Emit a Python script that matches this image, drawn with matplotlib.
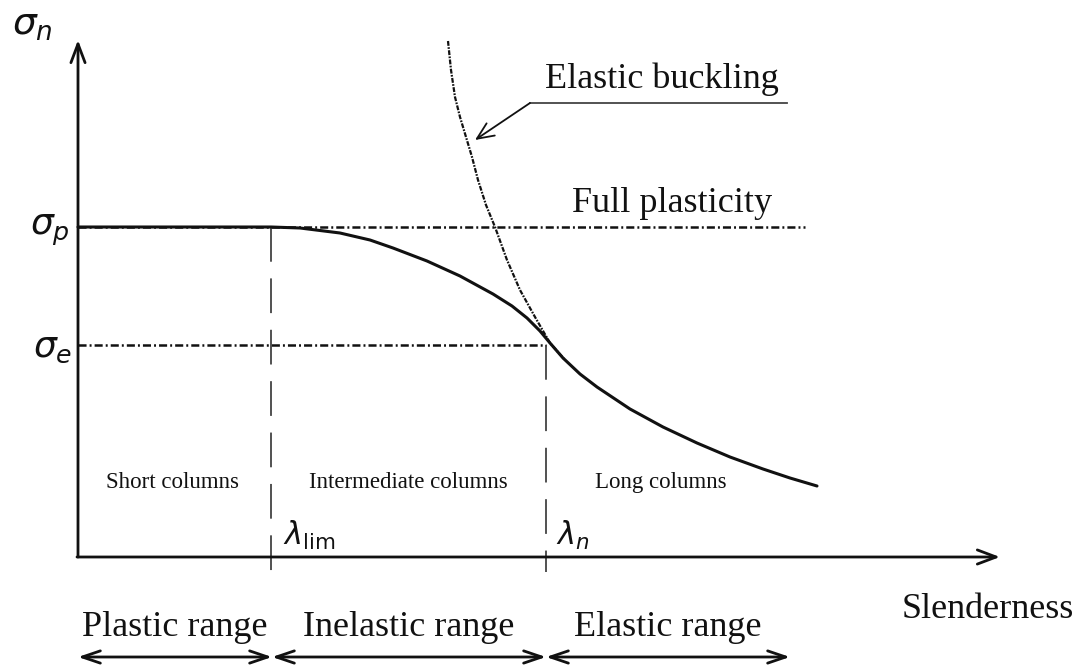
import matplotlib
matplotlib.use("Agg")
import matplotlib.pyplot as plt

plt.rcParams['lines.scale_dashes'] = False
plt.rcParams['mathtext.fontset'] = 'dejavusans'

# ---- data (slenderness units, stress units) ----
sigma_p = 3.30
sigma_e = 2.12
lam_lim = 1.93
lam_n = 4.68

# column curve
curve_x = [0.00, 1.93, 2.22, 2.62, 2.92, 3.15, 3.49, 3.82, 4.15, 4.34, 4.49,
           4.62, 4.72, 4.85, 5.02, 5.19, 5.52, 5.85, 6.19, 6.52, 6.85, 7.12, 7.39]
curve_y = [3.30, 3.30, 3.29, 3.24, 3.17, 3.09, 2.96, 2.81, 2.63, 2.51, 2.39,
           2.26, 2.14, 1.99, 1.83, 1.70, 1.48, 1.30, 1.14, 1.00, 0.88, 0.79, 0.71]

# elastic (Euler) buckling curve
euler_x = [3.70, 3.73, 3.77, 3.82, 3.88, 3.94, 4.00, 4.08, 4.17, 4.29, 4.42,
           4.57, 4.72, 4.87]
euler_y = [5.16, 4.87, 4.60, 4.40, 4.20, 4.00, 3.77, 3.52, 3.30, 2.97, 2.67,
           2.40, 2.14, 1.97]

full_plast_end = 7.27
x_axis_end = 9.22
y_axis_end = 5.17
range_edges = [0.0, 1.94, 4.68, 7.12]
range_labels = ["Plastic range", "Inelastic range", "Elastic range"]
column_labels = ["Short columns", "Intermediate columns", "Long columns"]
column_label_x = [0.94, 3.30, 5.83]

ink = "#111111"
serif = "Liberation Serif"

fig = plt.figure(figsize=(10.85, 6.68), dpi=100)
ax = fig.add_axes([0, 0, 1, 1])
ax.set_xlim(-0.78, 10.07)
ax.set_ylim(-1.11, 5.57)
ax.axis("off")

# axes arrows
axis_arrow = "->,head_length=0.45,head_width=0.17"
ax.annotate("", xy=(0, y_axis_end), xytext=(0, 0),
            arrowprops=dict(arrowstyle=axis_arrow, lw=2, color=ink,
                            mutation_scale=30, shrinkA=0, shrinkB=0))
ax.annotate("", xy=(x_axis_end, 0), xytext=(-0.01, 0),
            arrowprops=dict(arrowstyle=axis_arrow, lw=2, color=ink,
                            mutation_scale=30, shrinkA=0, shrinkB=0))

dashdot = (0, (5.8, 2.2, 1.4, 2.2))
# full plasticity line
ax.plot([0, full_plast_end], [sigma_p, sigma_p], color=ink, lw=1.8,
        linestyle=dashdot)
# sigma_e line
ax.plot([0, lam_n], [sigma_e, sigma_e], color=ink, lw=1.8, linestyle=dashdot)

# vertical dashed lines
for lx, ytop in [(lam_lim, sigma_p), (lam_n, sigma_e)]:
    ax.plot([lx, lx], [ytop, -0.15], color="#333333", lw=1.2,
            linestyle=(0, (25, 12)))

# euler curve
ax.plot(euler_x, euler_y, color=ink, lw=1.6, linestyle=(0, (3.5, 1.0, 1.2, 1.0)))
# column curve
ax.plot(curve_x, curve_y, color=ink, lw=2.2, solid_capstyle="round")

# elastic buckling leader
ax.plot([7.09, 4.52], [4.54, 4.54], color="#444444", lw=1.3)
ax.annotate("", xy=(3.97, 4.17), xytext=(4.52, 4.54),
            arrowprops=dict(arrowstyle="->,head_length=0.5,head_width=0.22",
                            lw=1.3, color=ink,
                            mutation_scale=24, shrinkA=0, shrinkB=0))

big = 26
ax.text(5.84, 4.69, "Elastic buckling", fontsize=big, family=serif,
        ha="center", va="baseline", color=ink)
ax.text(5.94, 3.45, "Full plasticity", fontsize=big, family=serif,
        ha="center", va="baseline", color=ink)
ax.text(9.10, -0.61, "Slenderness", fontsize=big, family=serif,
        ha="center", va="baseline", color=ink)

for cx, lab in zip(column_label_x, column_labels):
    ax.text(cx, 0.69, lab, fontsize=16.5, family=serif, ha="center",
            va="baseline", color=ink)

# range arrows
for i, lab in enumerate(range_labels):
    a, b = range_edges[i], range_edges[i + 1]
    ax.annotate("", xy=(b, -1.0), xytext=(a, -1.0),
                arrowprops=dict(arrowstyle="<->,head_length=0.5,head_width=0.17",
                                lw=2, color=ink,
                                mutation_scale=26, shrinkA=0, shrinkB=0))
    ax.text((a + b) / 2, -0.79, lab, fontsize=big, family=serif,
            ha="center", va="baseline", color=ink)

# greek labels
ax.text(-0.66, 5.22, r"$\sigma_n$", fontsize=27, ha="left", va="baseline",
        color=ink)
ax.text(-0.48, 3.22, r"$\sigma_p$", fontsize=26, ha="left", va="baseline",
        color=ink)
ax.text(-0.45, 2.00, r"$\sigma_e$", fontsize=26, ha="left", va="baseline",
        color=ink)
ax.text(2.05, 0.12, r"$\lambda_{\rm lim}$", fontsize=22, ha="left",
        va="baseline", color=ink)
ax.text(4.78, 0.12, r"$\lambda_n$", fontsize=22, ha="left", va="baseline",
        color=ink)

fig.savefig("out.png", dpi=100, facecolor="white")
